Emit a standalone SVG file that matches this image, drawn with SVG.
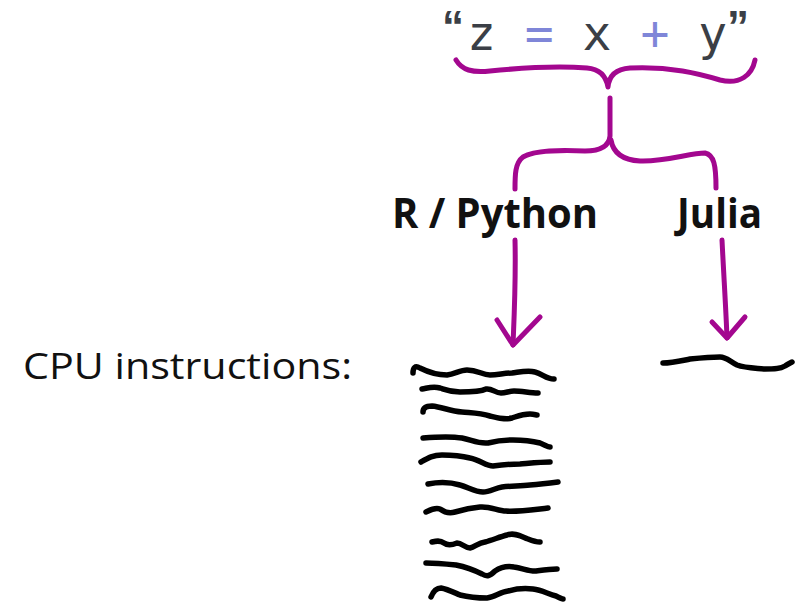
<svg xmlns="http://www.w3.org/2000/svg" width="802" height="605" viewBox="0 0 802 605">
<style>
.code{font-family:"DejaVu Sans Mono","Liberation Mono",monospace;font-size:48px;fill:#3b3f46}
.op{fill:#7f86d8}
.q{font-family:"Liberation Sans","Open Sans",sans-serif;font-weight:bold;font-size:44px;fill:#3b3f46}
.lbl{font-family:"Open Sans","Liberation Sans",sans-serif;font-weight:bold;font-size:42px;fill:#111}
.reg{font-family:"Open Sans","Liberation Sans",sans-serif;font-size:37px;fill:#111}
.pur{fill:none;stroke:#a3078f;stroke-width:5;stroke-linecap:round;stroke-linejoin:round}
.ink{fill:none;stroke:#000;stroke-width:5.5;stroke-linecap:round;stroke-linejoin:round}
</style>
<rect width="802" height="605" fill="#fff"/>
<g id="expr">
<text class="q" x="442" y="42">“</text>
<text class="code" x="467" y="50" xml:space="preserve">z <tspan class="op">=</tspan> x <tspan class="op">+</tspan> y</text>
<text class="q" x="727" y="42">”</text>
</g>
<g id="lang-r-python"><text class="lbl" x="392" y="228" textLength="206" lengthAdjust="spacingAndGlyphs">R / Python</text></g>
<g id="lang-julia"><text class="lbl" x="677" y="228" textLength="85" lengthAdjust="spacingAndGlyphs">Julia</text></g>
<g id="cpu-label"><text class="reg" x="23" y="379" textLength="329" lengthAdjust="spacingAndGlyphs">CPU instructions:</text></g>
<g id="connectors">
<path class="pur" d="M456,60 C462,70 472,73 490,71 C520,68 560,66 587,68 C600,69 606,76 608,87 C609,76 616,69 630,68 C670,66 700,74 720,80 C740,85 752,75 755,60"/>
<path class="pur" d="M610,98 L610,136 C609,146 600,151 585,151 C560,150 535,150 523,157 C515,163 515,175 515,189"/>
<path class="pur" d="M611,140 C613,152 622,160 640,161 C665,162 690,153 705,153 C714,155 716,165 716,188"/>
<path class="pur" d="M515,240 C516,280 514,320 513,345"/>
<path class="pur" d="M497,320 L513,345 L540,317"/>
<path class="pur" d="M722,240 C724,280 726,310 727,338"/>
<path class="pur" d="M712,322 L727,338 L745,317"/>
</g>
<g id="instr-python">
<path class="ink" d="M413,373 C413,368 415,365 420,368 C428,372 438,375 447,375 C455,374 460,370 467,370 C478,370 482,375 490,375 C498,375 504,373 512,373 C520,372 528,370 535,372 C543,374 546,379 554,379"/>
<path class="ink" d="M422,389 C428,388 433,386 440,388 C446,390 450,392 460,392 C470,392 480,392 486,389 C492,388 495,393 501,393 C506,393 509,391 514,391 C522,391 530,393 538,393"/>
<path class="ink" d="M423,412 C423,408 426,406 432,406 C442,407 450,411 462,412 C472,413 480,413 490,416 C498,418 505,420 512,418 C518,416 522,414 530,414 C534,414 536,415 537,415"/>
<path class="ink" d="M423,438 C435,437 450,436 462,438 C472,440 478,444 488,443 C496,441 503,440 513,440 C522,440 532,441 540,443 C545,445 548,447 550,447"/>
<path class="ink" d="M421,462 C428,458 433,455 442,455 C452,455 462,456 470,458 C480,460 486,466 493,466 C500,465 510,464 520,464 C532,463 542,462 550,462"/>
<path class="ink" d="M428,484 C438,482 450,482 460,485 C468,487 475,492 483,492 C490,492 495,488 502,487 C512,486 520,486 530,485 C542,484 550,483 558,482"/>
<path class="ink" d="M426,512 C430,510 435,507 440,509 C444,512 448,514 455,512 C462,510 470,508 480,507 C490,506 498,511 506,511 C516,512 530,510 548,508"/>
<path class="ink" d="M432,542 C436,541 440,540 444,543 C448,546 452,545 457,543 C462,543 465,548 470,548 C475,547 478,543 485,542 C492,540 500,537 507,535 C515,532 522,537 528,539 C533,541 537,542 540,542"/>
<path class="ink" d="M426,563 C436,563 446,564 456,565 C466,567 476,571 482,574 C487,577 490,576 495,571 C501,567 508,566 514,567 C522,568 528,571 535,571 C543,570 550,569 557,569"/>
<path class="ink" d="M431,597 C433,592 436,588 441,588 C447,589 453,592 460,595 C468,597 478,598 487,598 C495,597 500,592 508,591 C515,589 525,588 533,589 C542,590 548,594 556,596 C560,598 562,599 563,599"/>
</g>
<g id="instr-julia">
<path class="ink" d="M663,363 C672,363 680,361 690,359 C700,358 710,357 720,357 C727,357 730,362 737,365 C745,368 755,368 765,369 C774,369 780,369 785,366 C788,364 790,363 792,362"/>
</g>
</svg>
